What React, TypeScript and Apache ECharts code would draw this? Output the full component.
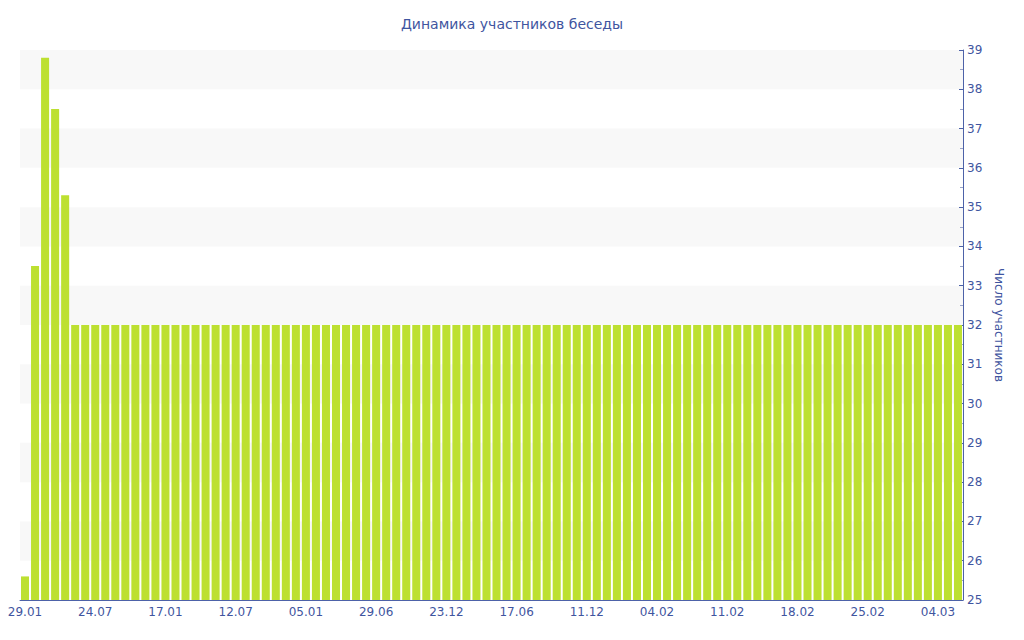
import React, { useEffect, useRef } from "react";
import * as echarts from "echarts";

const titleText = "Динамика участников беседы";
const yAxisName = "Число участников";

const categories: string[] = [
  "29.01", "23.02", "20.03", "14.04", "09.05", "03.06", "28.06",
  "24.07", "18.08", "12.09", "07.10", "01.11", "26.11", "22.12",
  "17.01", "11.02", "08.03", "02.04", "27.04", "22.05", "17.06",
  "12.07", "06.08", "31.08", "25.09", "20.10", "14.11", "10.12",
  "05.01", "30.01", "24.02", "21.03", "15.04", "10.05", "04.06",
  "29.06", "24.07", "18.08", "12.09", "07.10", "01.11", "27.11",
  "23.12", "17.01", "11.02", "08.03", "02.04", "27.04", "23.05",
  "17.06", "12.07", "06.08", "31.08", "25.09", "20.10", "15.11",
  "11.12", "05.01", "30.01", "31.01", "01.02", "02.02", "03.02",
  "04.02", "05.02", "06.02", "07.02", "08.02", "09.02", "10.02",
  "11.02", "12.02", "13.02", "14.02", "15.02", "16.02", "17.02",
  "18.02", "19.02", "20.02", "21.02", "22.02", "23.02", "24.02",
  "25.02", "26.02", "27.02", "28.02", "01.03", "02.03", "03.03",
  "04.03", "05.03", "06.03",
];

const members: number[] = [
  25.6, 33.5, 38.8, 37.5, 35.3, 32, 32,
  32, 32, 32, 32, 32, 32, 32,
  32, 32, 32, 32, 32, 32, 32,
  32, 32, 32, 32, 32, 32, 32,
  32, 32, 32, 32, 32, 32, 32,
  32, 32, 32, 32, 32, 32, 32,
  32, 32, 32, 32, 32, 32, 32,
  32, 32, 32, 32, 32, 32, 32,
  32, 32, 32, 32, 32, 32, 32,
  32, 32, 32, 32, 32, 32, 32,
  32, 32, 32, 32, 32, 32, 32,
  32, 32, 32, 32, 32, 32, 32,
  32, 32, 32, 32, 32, 32, 32,
  32, 32, 32,
];

const yMin = 25;
const yMax = 39;

const textColor = "#3f55a0";
const axisColor = "#4d62a8";
const barColor = "#bde031";
const font = "'DejaVu Sans', Verdana, sans-serif";

export default function App() {
  const ref = useRef<HTMLDivElement>(null);
  useEffect(() => {
    if (!ref.current) return;
    const chart = echarts.init(ref.current, undefined, { renderer: "svg" });
    chart.setOption({
      animation: false,
      title: {
        text: titleText,
        left: "center",
        top: 12,
        textStyle: { color: textColor, fontSize: 14, fontWeight: "normal", fontFamily: font },
      },
      grid: { left: 20, right: 61, top: 50, bottom: 40, containLabel: false },
      xAxis: {
        type: "category",
        data: categories,
        boundaryGap: true,
        axisLine: { lineStyle: { color: axisColor, width: 1 } },
        axisTick: { alignWithLabel: true, interval: 6, length: 4, lineStyle: { color: axisColor } },
        axisLabel: { interval: 6, color: textColor, fontSize: 12, fontFamily: font, margin: 6 },
        splitLine: { show: false },
      },
      yAxis: {
        type: "value",
        position: "right",
        min: yMin,
        max: yMax,
        interval: 1,
        name: yAxisName,
        nameLocation: "middle",
        nameRotate: -90,
        nameGap: 30,
        nameTextStyle: { color: textColor, fontSize: 12, fontFamily: font },
        axisLine: { show: true, lineStyle: { color: axisColor, width: 1 } },
        axisTick: { show: true, inside: true, length: 4, lineStyle: { color: axisColor } },
        minorTick: { show: true, splitNumber: 2, length: 3, lineStyle: { color: "#9aa4c8" } },
        axisLabel: { color: textColor, fontSize: 12, fontFamily: font, margin: 4 },
        splitLine: { show: false },
        splitArea: { show: true, areaStyle: { color: ["rgba(255,255,255,0)", "#f8f8f8"] } },
      },
      series: [
        {
          type: "bar",
          data: members,
          barCategoryGap: "20%",
          itemStyle: { color: barColor },
        },
      ],
    });
    return () => chart.dispose();
  }, []);
  return <div ref={ref} style={{ width: 1024, height: 640, margin: -8 }} />;
}
